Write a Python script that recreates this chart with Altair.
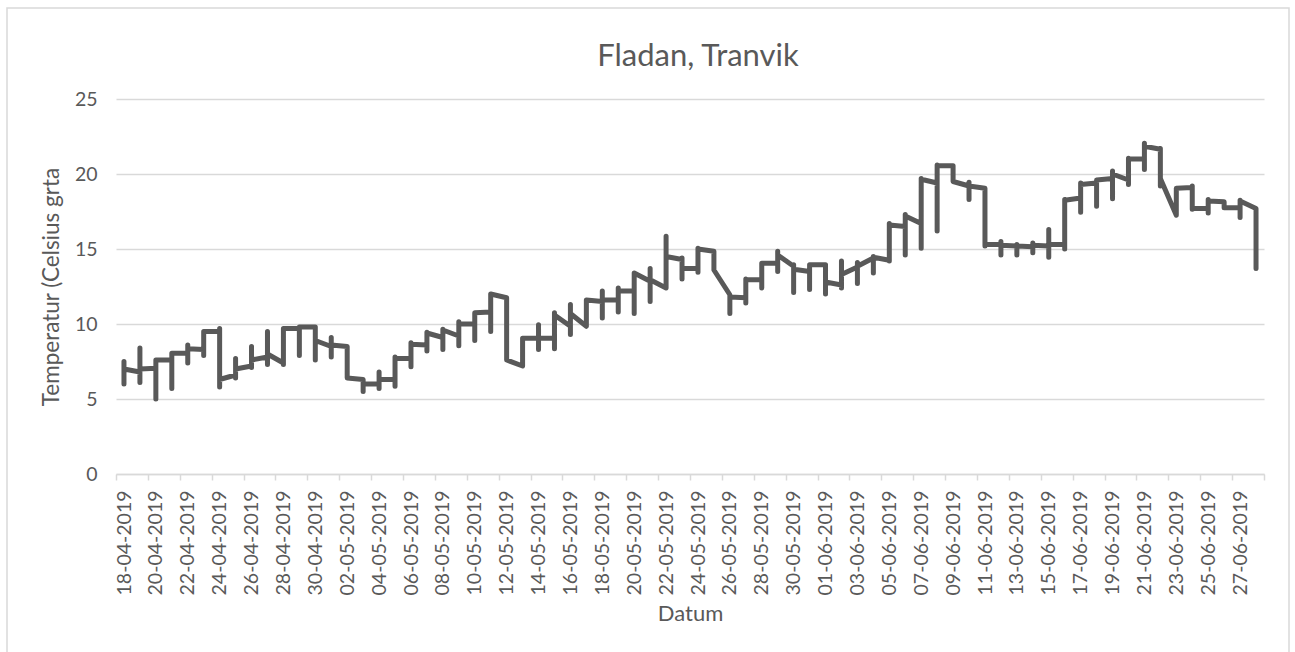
import altair as alt
import pandas as pd

# Categories: one x position per day, 18-04-2019 .. 28-06-2019
day_dates = pd.date_range("2019-04-18", "2019-06-28", freq="D")

# Readings per day, in the order they were logged (several per day)
april_readings = [
    [7.5, 6.0, 7.0], [6.8, 8.4, 6.1, 7.0], [7.05, 5.0, 7.6], [7.6, 5.7, 8.05],
    [8.05, 7.4, 8.6, 8.35], [8.3, 7.9, 9.5], [9.5, 9.7, 5.8, 6.3],
    [6.6, 7.7, 6.4, 7.0], [7.2, 8.5, 7.1, 7.6], [7.8, 9.5, 7.3, 8.0],
    [7.4, 7.3, 9.7], [9.7, 7.9, 9.8], [9.8, 7.6, 8.9],
]
may_readings = [
    [8.5, 9.1, 7.8, 8.6], [8.5, 6.4], [6.3, 5.5, 6.0], [6.0, 6.8, 5.7, 6.3],
    [6.3, 5.85, 7.8, 7.7], [7.7, 7.15, 8.75, 8.65], [8.6, 8.2, 9.45, 9.4],
    [9.1, 8.3, 9.65, 9.6], [9.2, 8.55, 10.15, 10.0], [10.0, 8.9, 10.75, 10.75],
    [10.8, 9.5, 12.0], [11.75, 7.6], [7.2, 9.05], [9.05, 9.95, 8.3, 9.05],
    [9.05, 10.75, 8.35, 10.6], [9.85, 11.3, 9.3, 10.7], [9.85, 11.6],
    [11.5, 10.4, 12.2, 11.6], [11.6, 10.8, 12.4, 12.2], [12.2, 10.7, 13.4],
    [12.85, 11.5, 13.7, 12.95], [12.4, 15.85, 14.5], [14.3, 14.4, 13.0, 13.7],
    [13.7, 13.45, 15.05, 15.0], [14.85, 13.6], [11.95, 10.7, 11.8],
    [11.75, 11.4, 13.0, 12.95], [12.95, 12.4, 14.05], [14.05, 14.85, 13.5, 14.6],
    [13.85, 13.95, 12.1, 13.65], [13.5, 12.3, 13.95],
]
june_readings = [
    [13.95, 12.0, 12.8], [12.6, 12.4, 14.2, 13.3], [13.8, 14.1, 12.7, 13.85],
    [14.4, 14.5, 13.4, 14.45], [14.25, 14.2, 16.7, 16.6], [16.5, 14.6, 17.3, 17.2],
    [16.7, 15.05, 19.7, 19.65], [19.4, 16.2, 20.6, 20.55], [20.55, 19.5],
    [19.2, 19.45, 18.3, 19.2], [19.05, 15.2, 15.3], [15.3, 15.5, 14.6, 15.25],
    [15.2, 15.3, 14.6, 15.2], [15.15, 15.4, 14.75, 15.25], [15.2, 16.3, 14.45, 15.3],
    [15.3, 15.0, 18.3, 18.25], [18.4, 17.45, 19.4, 19.3], [19.4, 17.85, 19.6],
    [19.7, 18.35, 20.2, 20.0], [19.6, 19.3, 21.05, 21.0], [21.0, 20.3, 22.05, 21.85],
    [21.65, 21.7, 19.2, 19.7], [17.25, 19.05], [19.1, 19.2, 17.65, 17.7],
    [17.7, 17.4, 18.3, 18.2], [18.15, 17.75], [17.75, 17.1, 18.25, 18.2],
    [17.7, 13.7],
]
readings = april_readings + may_readings + june_readings

# Axis tick dates: every second day (labels), last tick closes the axis
tick_dates = pd.date_range("2019-04-18", periods=37, freq="2D")
y_ticks = [0, 5, 10, 15, 20, 25]
chart_title = "Fladan, Tranvik"

rows = []
k = 0
for d, vals in zip(day_dates, readings):
    for v in vals:
        rows.append({"Datum": d.strftime("%Y-%m-%dT12:00:00"), "Temperatur": v, "ordning": k})
        k += 1
df = pd.DataFrame(rows)

GREY = "#595959"
LIGHT = "#d9d9d9"
FONT = "Lato"

tick_values = [alt.DateTime(year=t.year, month=t.month, date=t.day) for t in tick_dates]

x = alt.X(
    "Datum:T",
    title="Datum",
    scale=alt.Scale(
        domain=[alt.DateTime(year=2019, month=4, date=18), alt.DateTime(year=2019, month=6, date=29)],
        nice=False,
    ),
    axis=alt.Axis(
        values=tick_values,
        format="%d-%m-%Y",
        labelExpr="datum.index > 0.999 ? '' : datum.label",
        labelAngle=270,
        labelOffset=8,
        labelPadding=10,
        tickSize=6,
        tickColor=LIGHT,
        tickWidth=1.5,
        domainColor=LIGHT,
        domainWidth=1.5,
        grid=False,
        labelOverlap=False,
        labelFlush=False,
        labelFont=FONT,
        labelFontSize=19.5,
        labelColor=GREY,
        titleFont=FONT,
        titleFontSize=22,
        titleFontWeight="normal",
        titleColor=GREY,
        titleX=574,
        titleY=146,
        titleAlign="center",
        titleBaseline="alphabetic",
    ),
)

y = alt.Y(
    "Temperatur:Q",
    scale=alt.Scale(domain=[0, 25], nice=False),
    axis=alt.Axis(
        values=y_ticks,
        grid=True,
        gridColor=LIGHT,
        gridWidth=1.5,
        domain=False,
        ticks=False,
        tickSize=0,
        labelPadding=19,
        labelFont=FONT,
        labelFontSize=19.5,
        labelColor=GREY,
        title="Temperatur (Celsius grta",
        titleFont=FONT,
        titleFontSize=22.5,
        titleFontWeight="normal",
        titleColor=GREY,
        titleX=-58,
        titleY=187.5,
        titleAngle=270,
        titleAlign="center",
        titleBaseline="alphabetic",
    ),
)

line = alt.Chart(df).mark_line(
    color=GREY, strokeWidth=5, strokeCap="round", strokeJoin="round"
).encode(x=x, y=y, order=alt.Order("ordning:Q"))

frame = alt.Chart(alt.Data(values=[{"f": 1}])).mark_rect(
    fillOpacity=0, stroke=LIGHT, strokeWidth=1.5
).encode(
    x=alt.value(-109), x2=alt.value(1173), y=alt.value(-91), y2=alt.value(600)
)

title = alt.Chart(alt.Data(values=[{"t": chart_title}])).mark_text(
    font=FONT, fontSize=31, color=GREY, align="center", baseline="alphabetic"
).encode(x=alt.value(582), y=alt.value(-33), text="t:N")

chart = alt.layer(frame, line, title).properties(
    width=1148,
    height=375,
    autosize=alt.AutoSizeParams(type="none"),
    padding={"left": 116, "top": 99, "right": 31, "bottom": 178},
    background="white",
).configure_view(stroke=None)

chart.save("out.html", embed_options={"renderer": "svg", "actions": False})
